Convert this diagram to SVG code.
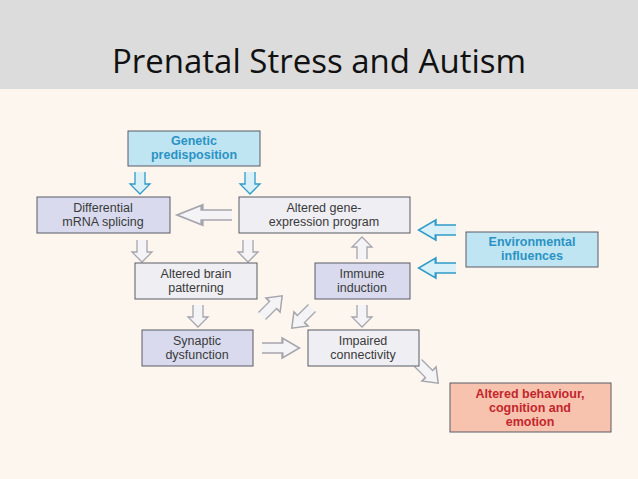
<svg xmlns="http://www.w3.org/2000/svg" width="638" height="479" viewBox="0 0 638 479">
<style>
.bx{stroke:#5a5a66;stroke-width:1}
.g{fill:#eeeef3}.l{fill:#d9daee}.b{fill:#bfe4f2}.r{fill:#f7c2ae}
.t{font-family:"Liberation Sans",Arial,sans-serif;font-size:12.5px;fill:#3a3a3a;text-anchor:middle}
.tb{font-family:"Liberation Sans",Arial,sans-serif;font-size:12.5px;font-weight:bold;fill:#2a93c4;text-anchor:middle}
.tr{font-family:"Liberation Sans",Arial,sans-serif;font-size:12.5px;font-weight:bold;fill:#c3262c;text-anchor:middle}
.ag{fill:#f4f4f6;stroke:#a5a5ad;stroke-width:1.3}
.ab{fill:#d9f0f8;stroke:#2f9bc8;stroke-width:1.3}
</style>
<defs>
<path id="dn" d="M-5,0 V12 H-10 L0,22 L10,12 H5 V0"/>
</defs>
<rect width="638" height="479" fill="#fdf6ef"/>
<rect width="638" height="89" fill="#dcdcdc"/>
<text x="319" y="73" font-family="'Open Sans','Liberation Sans',sans-serif" font-size="33" text-anchor="middle" fill="#111">Prenatal Stress and Autism</text>

<g id="connectors">
<use href="#dn" class="ab" transform="translate(140,172)"/>
<use href="#dn" class="ab" transform="translate(250,172)"/>
<use href="#dn" class="ag" transform="translate(142,240)"/>
<use href="#dn" class="ag" transform="translate(248,240)"/>
<use href="#dn" class="ag" transform="translate(198,305)"/>
<use href="#dn" class="ag" transform="translate(362,305)"/>
<use href="#dn" class="ag" transform="translate(362,259) rotate(180)"/>
<use href="#dn" class="ag" transform="translate(232,215) rotate(90) scale(1,2.5)"/>
<use href="#dn" class="ab" transform="translate(456,230) rotate(90) scale(1,1.7)"/>
<use href="#dn" class="ab" transform="translate(456,268) rotate(90) scale(1,1.7)"/>
<use href="#dn" class="ag" transform="translate(262,348) rotate(-90) scale(1,1.7)"/>
<use href="#dn" class="ag" transform="translate(418,363) rotate(-45) scale(1,1.3)"/>
<use href="#dn" class="ag" transform="translate(262,316) rotate(-135) scale(1,1.3)"/>
<use href="#dn" class="ag" transform="translate(312,308) rotate(45) scale(1,1.3)"/>
</g>

<g id="genetic"><rect class="bx b" x="128" y="131" width="132" height="35"/><text class="tb" x="194" y="145">Genetic</text><text class="tb" x="194" y="159">predisposition</text></g>
<g id="splicing"><rect class="bx l" x="37" y="197" width="133" height="36"/><text class="t" x="103" y="212">Differential</text><text class="t" x="103" y="226">mRNA splicing</text></g>
<g id="geneexpr"><rect class="bx g" x="239" y="197" width="171" height="36"/><text class="t" x="324" y="212">Altered gene-</text><text class="t" x="324" y="226">expression program</text></g>
<g id="env"><rect class="bx b" x="466" y="232" width="132" height="35"/><text class="tb" x="532" y="246">Environmental</text><text class="tb" x="532" y="260">influences</text></g>
<g id="brain"><rect class="bx g" x="135" y="263" width="122" height="36"/><text class="t" x="196" y="278">Altered brain</text><text class="t" x="196" y="292">patterning</text></g>
<g id="immune"><rect class="bx l" x="315" y="263" width="95" height="36"/><text class="t" x="362" y="278">Immune</text><text class="t" x="362" y="292">induction</text></g>
<g id="synaptic"><rect class="bx l" x="142" y="330" width="111" height="36"/><text class="t" x="197" y="345">Synaptic</text><text class="t" x="197" y="359">dysfunction</text></g>
<g id="impaired"><rect class="bx g" x="308" y="330" width="111" height="36"/><text class="t" x="363" y="345">Impaired</text><text class="t" x="363" y="359">connectivity</text></g>
<g id="behaviour"><rect class="bx r" x="450" y="383" width="161" height="49"/><text class="tr" x="530" y="398">Altered behaviour,</text><text class="tr" x="530" y="412">cognition and</text><text class="tr" x="530" y="426">emotion</text></g>
</svg>
